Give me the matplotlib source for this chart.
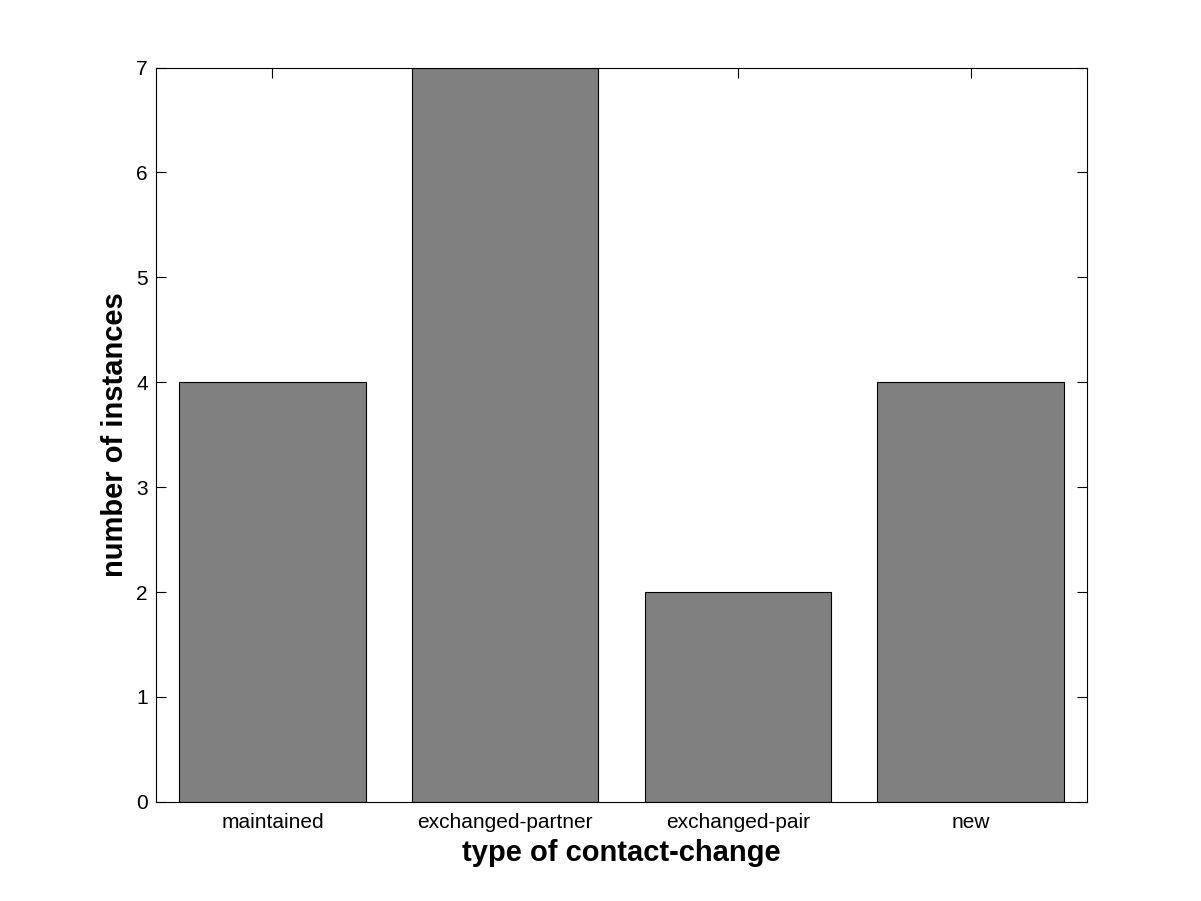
# Contact-change bar chart

# Libraries
import numpy as np
import matplotlib.pyplot as plt


# Data
categories = ["maintained", "exchanged-partner", "exchanged-pair", "new"]
instances = [4, 7, 2, 4]
y_ticks = [0, 1, 2, 3, 4, 5, 6, 7]


# RC Params
plt.rcParams["font.family"] = ["Liberation Sans", "DejaVu Sans"]
plt.rcParams["font.size"] = 15
plt.rcParams["xtick.direction"] = "in"
plt.rcParams["ytick.direction"] = "in"
plt.rcParams["xtick.major.size"] = 7
plt.rcParams["ytick.major.size"] = 7

# Figure
fig = plt.figure(figsize=[12.01, 9.01], dpi=100)
ax = fig.add_axes([0.13, 0.11, 0.775, 0.815])

x = np.arange(1, len(categories) + 1)
ax.bar(x, instances, width=0.8, color="#808080", edgecolor="black", linewidth=0.8)

ax.set_xlim(0.5, 4.5)
ax.set_ylim(0, 7)
ax.set_xticks(x)
ax.set_xticklabels(categories)
ax.set_yticks(y_ticks)
ax.set_axisbelow(True)  # bars hide the ticks, like the original
ax.tick_params(top=True, right=True, width=0.8, pad=6)
ax.tick_params(axis="x", pad=8)

ax.set_xlabel("type of contact-change", fontsize=21, fontweight="bold", labelpad=5)
ax.set_ylabel("number of instances", fontsize=21, fontweight="bold", labelpad=5)

for s in ax.spines.values():
    s.set_linewidth(0.8)

fig.savefig("out.png", dpi=100)
plt.close(fig)
